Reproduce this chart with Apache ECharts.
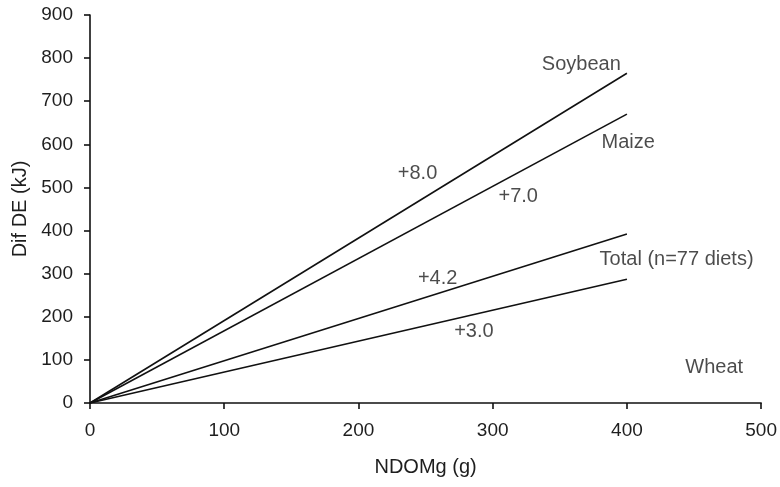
<!DOCTYPE html>
<html><head><meta charset="utf-8">
<script src="https://cdn.jsdelivr.net/npm/echarts@6/dist/echarts.min.js"></script>
<style>html,body{margin:0;padding:0;background:#fff}#c{width:780px;height:487px}</style>
</head><body><div id="c"></div>
<script>
const seriesNames = ['Soybean', 'Maize', 'Total', 'Wheat'];
const xStart = [0, 0, 0, 0];
const yStart = [0, 0, 0, 0];
const xEnd = [400, 400, 400, 400];
const yEnd = [765, 670, 392, 287];
const labelTexts = ['Soybean', 'Maize', 'Total (n=77 diets)', 'Wheat', '+8.0', '+7.0', '+4.2', '+3.0'];
const labelX = [366, 401, 437, 465, 244, 319, 259, 286];
const labelY = [786, 604, 332, 82, 532, 479, 289, 166];
const xTicks = [0, 100, 200, 300, 400, 500];
const yTicks = [0, 100, 200, 300, 400, 500, 600, 700, 800, 900];

const font = '"Liberation Sans", Arial, sans-serif';
const txt = '#1e1e1e';
const chart = echarts.init(document.getElementById('c'));
const lineSeries = seriesNames.map((n, i) => ({
  name: n, type: 'line', symbol: 'none', animation: false,
  lineStyle: { color: '#111', width: 1.6 },
  data: [[xStart[i], yStart[i]], [xEnd[i], yEnd[i]]]
}));
chart.setOption({
  animation: false,
  grid: { left: 90, right: 17, top: 15, bottom: 84, containLabel: false },
  xAxis: {
    type: 'value', min: xTicks[0], max: xTicks[xTicks.length - 1], interval: 100,
    name: 'NDOMg (g)', nameLocation: 'middle', nameGap: 54,
    nameTextStyle: { fontFamily: font, fontSize: 20, color: txt },
    axisLine: { lineStyle: { color: '#111', width: 1.6 } },
    axisTick: { show: true, inside: false, length: 6, lineStyle: { color: '#111', width: 1.6 } },
    axisLabel: { fontFamily: font, fontSize: 19, color: txt, margin: 18 },
    splitLine: { show: false }
  },
  yAxis: {
    type: 'value', min: yTicks[0], max: yTicks[yTicks.length - 1], interval: 100,
    name: 'Dif DE (kJ)', nameLocation: 'middle', nameGap: 60, nameRotate: 90,
    nameTextStyle: { fontFamily: font, fontSize: 20, color: txt },
    axisLine: { show: true, lineStyle: { color: '#111', width: 1.6 } },
    axisTick: { show: true, inside: false, length: 6, lineStyle: { color: '#111', width: 1.6 } },
    axisLabel: { fontFamily: font, fontSize: 19, color: txt, margin: 17 },
    splitLine: { show: false }
  },
  series: lineSeries.concat([{
    type: 'scatter', symbolSize: 0, silent: true,
    data: labelTexts.map((t, i) => ({ value: [labelX[i], labelY[i]], name: t })),
    label: { show: true, position: 'inside', formatter: p => p.name,
      fontFamily: font, fontSize: 20, color: txt }
  }])
});
</script></body></html>
